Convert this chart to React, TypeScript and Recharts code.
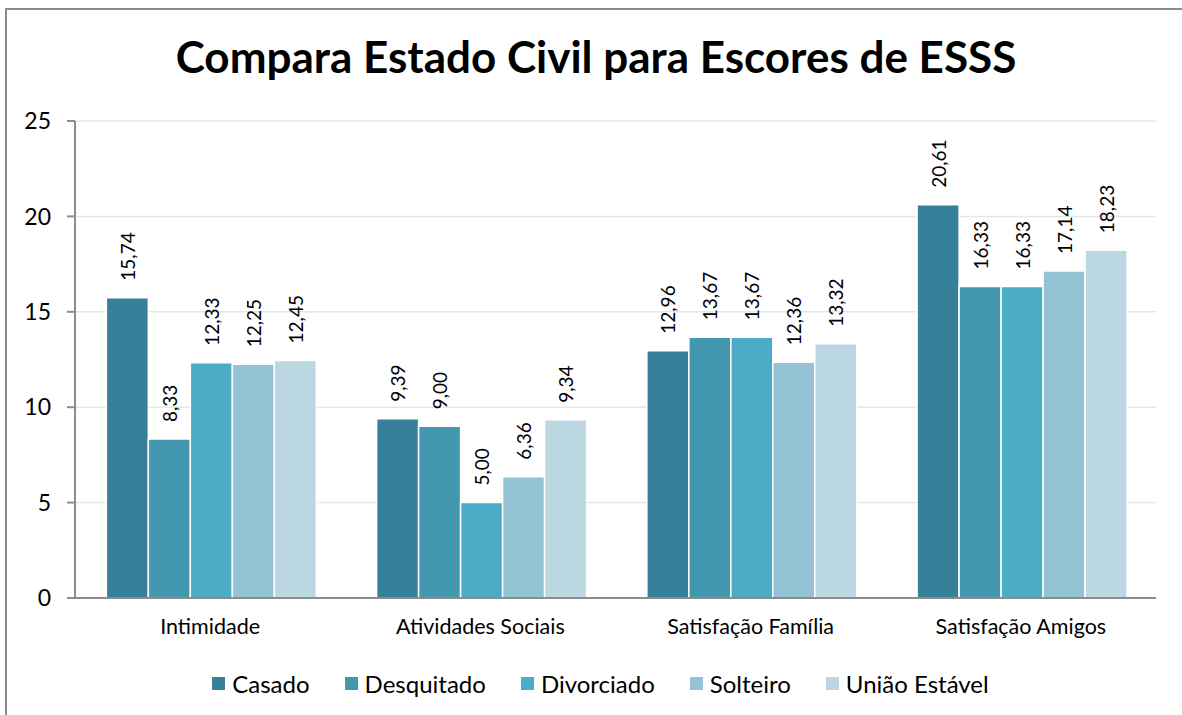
import React from 'react';
import { BarChart, Bar, XAxis, YAxis, CartesianGrid, Legend, LabelList } from 'recharts';

const categories = ['Intimidade', 'Atividades Sociais', 'Satisfação Família', 'Satisfação Amigos'];
const casado = [15.74, 9.39, 12.96, 20.61];
const desquitado = [8.33, 9.0, 13.67, 16.33];
const divorciado = [12.33, 5.0, 13.67, 16.33];
const solteiro = [12.25, 6.36, 12.36, 17.14];
const uniao = [12.45, 9.34, 13.32, 18.23];
const seriesNames = ['Casado', 'Desquitado', 'Divorciado', 'Solteiro', 'União Estável'];
const seriesKeys = ['casado', 'desquitado', 'divorciado', 'solteiro', 'uniao'];
const seriesColors = ['#37809A', '#4398B0', '#4BACC6', '#93C3D5', '#BAD7E2'];
const yTicks = [0, 5, 10, 15, 20, 25];
const boundaryTicks = [0, 1, 2, 3, 4];
const title = 'Compara Estado Civil para Escores de ESSS';

const data = categories.map((c, i) => ({
  name: c,
  casado: casado[i],
  desquitado: desquitado[i],
  divorciado: divorciado[i],
  solteiro: solteiro[i],
  uniao: uniao[i],
}));

const FONT = 'Lato, "Open Sans", sans-serif';
const fmt = (v: number) => v.toFixed(2).replace('.', ',');

const renderLabel = (props: any) => {
  const { x, y, width, value } = props;
  const cx = Number(x) + Number(width) / 2;
  const ty = Number(y) - 17;
  return (
    <text
      x={cx}
      y={ty}
      transform={`rotate(-90, ${cx}, ${ty})`}
      textAnchor="start"
      dominantBaseline="central"
      fontSize={19}
      fontFamily={FONT}
      fill="#000"
    >
      {fmt(Number(value))}
    </text>
  );
};

const renderLegend = () => (
  <div style={{ display: 'flex', justifyContent: 'center', alignItems: 'center', gap: 35, marginLeft: 30, fontFamily: FONT, fontSize: 24, color: '#000' }}>
    {seriesNames.map((n, i) => (
      <div key={n} style={{ display: 'flex', alignItems: 'center' }}>
        <span style={{ display: 'inline-block', width: 13, height: 13, background: seriesColors[i], marginRight: 7 }} />
        <span>{n}</span>
      </div>
    ))}
  </div>
);

export default function App() {
  return (
    <div style={{ position: 'absolute', left: 0, top: 0, width: 1182, height: 715, overflow: 'hidden', background: '#fff' }}>
      <div style={{ position: 'absolute', left: 5, top: 8, width: 1200, height: 730, border: '2px solid #8C8C8C', boxSizing: 'border-box' }} />
      <div style={{ position: 'absolute', left: 0, top: 30, width: 1192, textAlign: 'center', fontFamily: FONT, fontWeight: 'bold', fontSize: 44, color: '#000' }}>
        {title}
      </div>
      <div style={{ position: 'absolute', left: 0, top: 0 }}>
        <BarChart
          width={1182}
          height={715}
          data={data}
          margin={{ top: 121, right: 26, left: 15, bottom: 16 }}
          barCategoryGap="11.6%"
          barGap={0}
        >
          <CartesianGrid vertical={false} stroke="#E6E6E6" strokeWidth={1.5} />
          <XAxis
            xAxisId="bounds"
            type="number"
            domain={[0, 4]}
            ticks={boundaryTicks}
            tick={false}
            tickSize={7}
            height={8}
            axisLine={{ stroke: '#8C8C8C', strokeWidth: 2 }}
            tickLine={{ stroke: '#8C8C8C', strokeWidth: 2 }}
            allowDataOverflow
          />
          <XAxis
            xAxisId="cat"
            dataKey="name"
            axisLine={false}
            tickLine={false}
            height={63}
            tickMargin={7}
            tick={{ fontSize: 21.5, fontFamily: FONT, fill: '#000' }}
          />
          <YAxis
            domain={[0, 25]}
            ticks={yTicks}
            width={60}
            tickSize={8}
            tickMargin={16}
            axisLine={{ stroke: '#8C8C8C', strokeWidth: 2 }}
            tickLine={{ stroke: '#8C8C8C', strokeWidth: 2 }}
            tick={{ fontSize: 23, fontFamily: FONT, fill: '#000' }}
          />
          <Legend verticalAlign="bottom" height={30} content={renderLegend} />
          {seriesKeys.map((k, i) => (
            <Bar
              key={k}
              xAxisId="cat"
              dataKey={k}
              name={seriesNames[i]}
              fill={seriesColors[i]}
              stroke="#fff"
              strokeWidth={1.5}
              isAnimationActive={false}
            >
              <LabelList dataKey={k} content={renderLabel} />
            </Bar>
          ))}
        </BarChart>
      </div>
    </div>
  );
}
